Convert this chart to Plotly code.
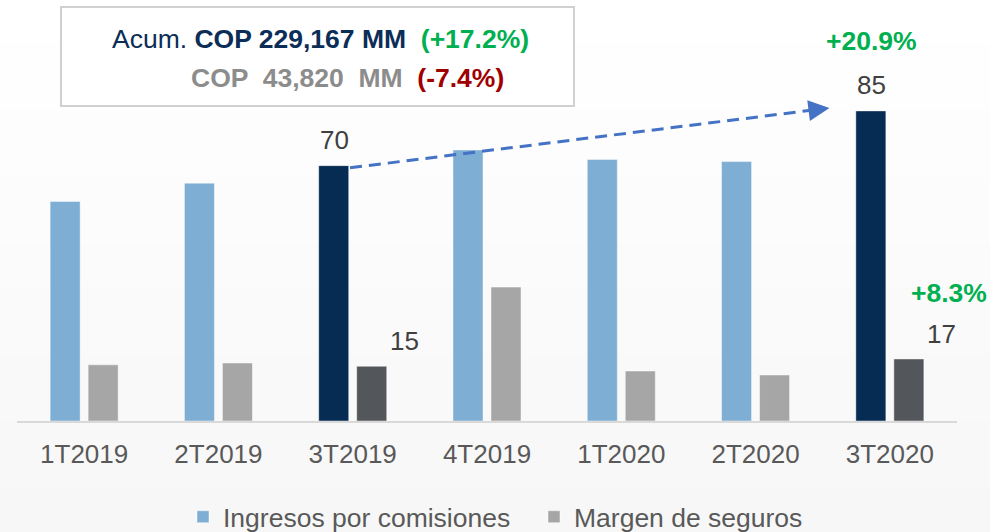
import plotly.graph_objects as go

categories = ["1T2019", "2T2019", "3T2019", "4T2019", "1T2020", "2T2020", "3T2020"]
ingresos = [60.2, 65.2, 70, 74.3, 71.7, 71.1, 85]
margen = [15.4, 15.9, 15, 36.7, 13.7, 12.6, 17]
highlight = [False, False, True, False, False, False, True]

series_names = ["Ingresos por comisiones", "Margen de seguros"]
growth_ingresos = "+20.9%"
growth_margen = "+8.3%"
box_line1 = ("Acum. ", "COP 229,167 MM", "  (+17.2%)")
box_line2 = ("COP  43,820  MM", "  (-7.4%)")

W, H = 990, 532
ML, MR, MT, MB = 17, 33, 0, 111
PW = W - ML - MR
PH = H - MT - MB
YMAX = 115.4

BLUE, NAVY = "#7EAED3", "#072C53"
GRAY, DGRAY = "#A6A6A6", "#53565A"
GREEN, RED = "#00B050", "#A00000"
TXT = "#404040"
FONT = "Liberation Sans, Arial, sans-serif"


def px_x(px):
    return (px - ML) / PW


def px_y(py):
    return (H - MB - py) / PH


fig = go.Figure()
fig.add_trace(go.Bar(
    x=categories, y=ingresos, name=series_names[0],
    marker=dict(color=[NAVY if h else BLUE for h in highlight],
                line=dict(color="rgba(255,255,255,0.45)", width=1)),
))
fig.add_trace(go.Bar(
    x=categories, y=margen, name=series_names[1],
    marker=dict(color=[DGRAY if h else GRAY for h in highlight],
                line=dict(color="rgba(255,255,255,0.45)", width=1)),
))

# background gradient bands
shapes = []
n = 24
for i in range(n):
    y0 = H * i / n
    y1 = H * (i + 1) / n
    c = int(round(255 - 8 * (i / (n - 1))))
    shapes.append(dict(type="rect", xref="paper", yref="paper", layer="below",
                       x0=px_x(-2), x1=px_x(W + 2), y0=px_y(y1 + 1), y1=px_y(y0 - 1),
                       line=dict(width=0), fillcolor=f"rgb({c},{c},{c})"))

# header box
shapes.append(dict(type="rect", xref="paper", yref="paper",
                   x0=px_x(61), x1=px_x(574), y0=px_y(106), y1=px_y(7),
                   line=dict(color="#D0D0D0", width=2), fillcolor="white"))

# dashed trend arrow from 3T2019 to 3T2020
i0, i1 = categories.index("3T2019"), categories.index("3T2020")
sx, sy = i0 - 0.02, ingresos[i0] - 0.6
tx, ty = i1 - 0.45, ingresos[i1] + 0.8
frac = 0.962
bx, by = sx + (tx - sx) * frac, sy + (ty - sy) * frac
shapes.append(dict(type="line", xref="x", yref="y", x0=sx, y0=sy, x1=bx, y1=by,
                   line=dict(color="#4472C4", width=3, dash="12px,7px")))

annotations = []
annotations.append(dict(xref="x", yref="y", axref="x", ayref="y", x=tx, y=ty, ax=bx, ay=by,
                        text="", showarrow=True, arrowhead=2, arrowsize=1.4,
                        arrowwidth=3, arrowcolor="#4472C4"))

# data labels
for idx in (i0, i1):
    annotations.append(dict(x=categories[idx], y=ingresos[idx], xref="x", yref="y",
                            text=str(round(ingresos[idx])), showarrow=False,
                            xshift=-18, yshift=26, yanchor="middle",
                            font=dict(size=26, color=TXT, family=FONT)))
    annotations.append(dict(x=categories[idx], y=margen[idx], xref="x", yref="y",
                            text=str(round(margen[idx])), showarrow=False,
                            xshift=52, yshift=25, yanchor="middle",
                            font=dict(size=26, color=TXT, family=FONT)))

annotations.append(dict(x=categories[i1], y=ingresos[i1], xref="x", yref="y",
                        text=f"<b>{growth_ingresos}</b>", showarrow=False,
                        xshift=-18, yshift=70, yanchor="middle",
                        font=dict(size=26.5, color=GREEN, family=FONT)))
annotations.append(dict(x=categories[i1], y=margen[i1], xref="x", yref="y",
                        text=f"<b>{growth_margen}</b>", showarrow=False,
                        xshift=59, yshift=66, yanchor="middle",
                        font=dict(size=26.5, color=GREEN, family=FONT)))

# header texts
annotations.append(dict(xref="paper", yref="paper", x=px_x(110), y=px_y(39),
                        xanchor="left", yanchor="middle", showarrow=False,
                        text=(f"<span style='color:#0B2D57'>{box_line1[0]}</span>"
                              f"<b><span style='color:#0B2D57'>{box_line1[1]}</span></b>"
                              f"<b><span style='color:{GREEN}'>{box_line1[2]}</span></b>"),
                        font=dict(size=26.5, family=FONT)))
annotations.append(dict(xref="paper", yref="paper", x=px_x(189), y=px_y(78),
                        xanchor="left", yanchor="middle", showarrow=False,
                        text=(f"<b><span style='color:#8C8C8C'>{box_line2[0]}</span></b>"
                              f"<b><span style='color:{RED}'>{box_line2[1]}</span></b>"),
                        font=dict(size=26.5, family=FONT)))

fig.update_layout(
    width=W, height=H,
    margin=dict(l=ML, r=MR, t=MT, b=MB, autoexpand=False),
    paper_bgcolor="white", plot_bgcolor="rgba(0,0,0,0)",
    barmode="group", bargap=0.434, bargroupgap=0.21,
    font=dict(family=FONT, color="#595959"),
    showlegend=True,
    legend=dict(orientation="h", xref="container", yref="container",
                x=183 / W, y=(H - 517) / H, xanchor="left", yanchor="middle",
                font=dict(size=26.5, color="#595959", family=FONT),
                bgcolor="rgba(0,0,0,0)", itemwidth=30, entrywidth=306),
    shapes=shapes, annotations=annotations,
    xaxis=dict(showline=True, linecolor="#D9D9D9", linewidth=2, showgrid=False,
               range=[-0.5, len(categories) - 0.5], autorange=False,
               ticks="", ticklabelstandoff=9, automargin=False,
               tickfont=dict(size=26, color="#595959", family=FONT), fixedrange=True),
    yaxis=dict(range=[0, YMAX], visible=False, showgrid=False, fixedrange=True,
               automargin=False),
)

fig.write_html("out.html", config={"displayModeBar": False},
               post_script="document.body.style.margin='0';document.body.style.overflow='hidden';")
